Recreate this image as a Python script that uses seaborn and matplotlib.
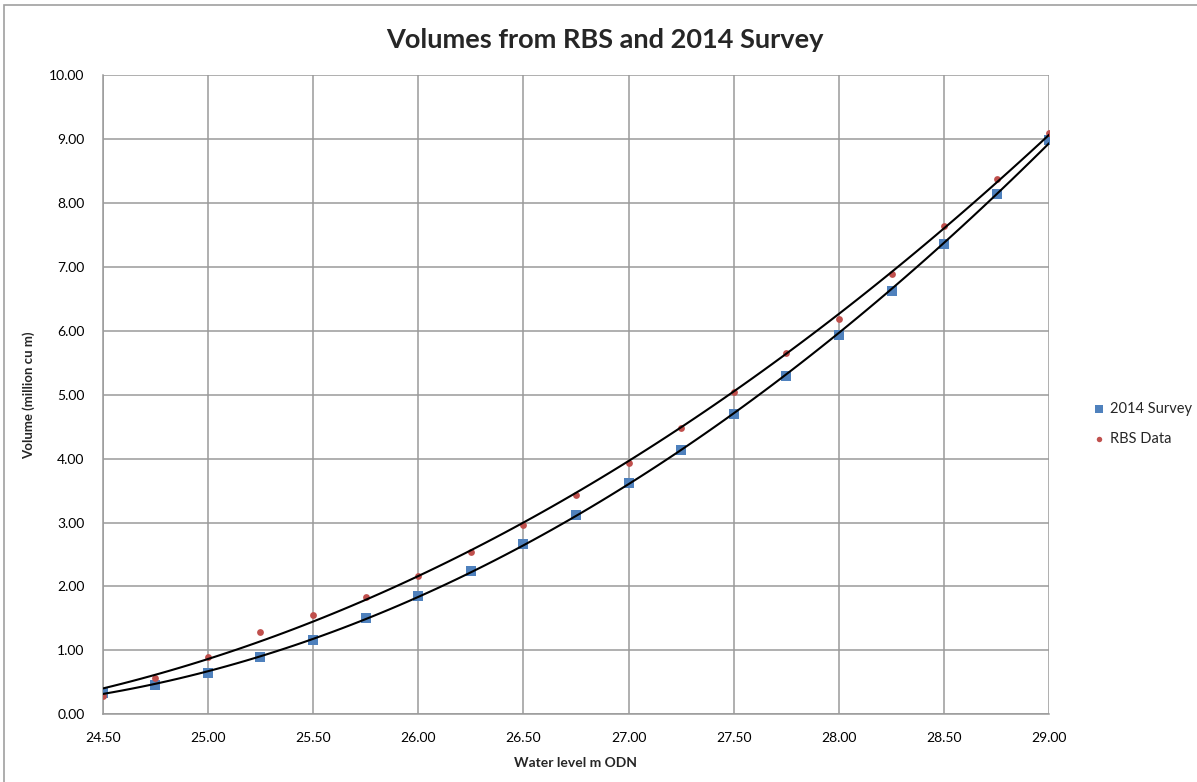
import matplotlib
matplotlib.use("Agg")
import matplotlib.pyplot as plt
import numpy as np
import pandas as pd
import seaborn as sns
from matplotlib.patches import Rectangle

# ==================== DATA ====================
water_level = [24.50, 24.75, 25.00, 25.25, 25.50, 25.75, 26.00, 26.25, 26.50,
               26.75, 27.00, 27.25, 27.50, 27.75, 28.00, 28.25, 28.50, 28.75, 29.00]
survey_2014 = [0.34, 0.46, 0.65, 0.89, 1.17, 1.50, 1.85, 2.24, 2.67,
               3.12, 3.62, 4.14, 4.70, 5.30, 5.94, 6.63, 7.36, 8.14, 8.99]
rbs_data = [0.28, 0.56, 0.90, 1.29, 1.55, 1.84, 2.17, 2.54, 2.96,
            3.43, 3.94, 4.48, 5.04, 5.65, 6.18, 6.89, 7.64, 8.37, 9.10]

x_ticks = np.arange(24.5, 29.01, 0.5)
y_ticks = np.arange(0, 10.01, 1.0)

BLUE = "#4F81BD"
RED = "#C0504D"
GRID = "#9a9a9a"
FONT = ["Lato", "DejaVu Sans"]

# ==================== PLOT ====================
sns.set_style("white")
plt.rcParams["font.family"] = FONT

df = pd.DataFrame({"level": water_level, "survey": survey_2014, "rbs": rbs_data})

fig = plt.figure(figsize=(11.97, 7.82), dpi=100)
ax = fig.add_axes([0.0858, 0.0866, 0.8766 - 0.0858, 0.9037 - 0.0866])

sns.scatterplot(data=df, x="level", y="survey", marker="s", s=42, color=BLUE,
                edgecolor=BLUE, linewidth=0, label="2014 Survey", ax=ax, zorder=3)
sns.scatterplot(data=df, x="level", y="rbs", marker="o", s=24, color=RED,
                edgecolor=RED, linewidth=0, label="RBS Data", ax=ax, zorder=3)

# polynomial (order 2) trendlines
sns.regplot(data=df, x="level", y="survey", order=2, ci=None, scatter=False,
            line_kws={"color": "black", "lw": 1.5, "zorder": 4}, ax=ax)
sns.regplot(data=df, x="level", y="rbs", order=2, ci=None, scatter=False,
            line_kws={"color": "black", "lw": 1.5, "zorder": 4}, ax=ax)

ax.set_xlim(24.5, 29.0)
ax.set_ylim(0, 10)
ax.set_xticks(x_ticks)
ax.set_yticks(y_ticks)
ax.set_xticklabels([f"{v:.2f}" for v in x_ticks], fontsize=10)
ax.set_yticklabels([f"{v:.2f}" for v in y_ticks], fontsize=10)
ax.grid(True, color=GRID, lw=1.1)
ax.set_axisbelow(True)
ax.tick_params(axis="both", length=5, width=1, color=GRID, pad=8, labelcolor="black")
for side in ["top", "right"]:
    ax.spines[side].set_visible(False)
for side in ["left", "bottom"]:
    ax.spines[side].set_color(GRID)
    ax.spines[side].set_linewidth(1.1)

ax.set_xlabel("Water level m ODN", fontsize=10, fontweight="bold")
ax.set_ylabel("Volume (million cu m)", fontsize=9.5, fontweight="bold")
ax.xaxis.set_label_coords(0.5, -0.0668)
ax.yaxis.set_label_coords(-0.0715, 0.5)

fig.text(0.505, 0.949, "Volumes from RBS and 2014 Survey", ha="center", va="center",
         fontsize=19.5, fontweight="bold")

leg = ax.legend(loc="center left", bbox_to_anchor=(1093 / 1197, 0.458),
                bbox_transform=fig.transFigure, frameon=False, borderpad=0,
                borderaxespad=0, fontsize=10.5, handlelength=0.8,
                handletextpad=0.4, labelspacing=1.05, markerscale=0.8)

# chart area border
fig.patches.append(Rectangle((4 / 1197, -0.01), 1.1, 1.0 - 5 / 782 + 0.01,
                             transform=fig.transFigure, fill=False,
                             edgecolor="#a0a0a0", lw=1.2))

fig.savefig("out.png", dpi=100)
